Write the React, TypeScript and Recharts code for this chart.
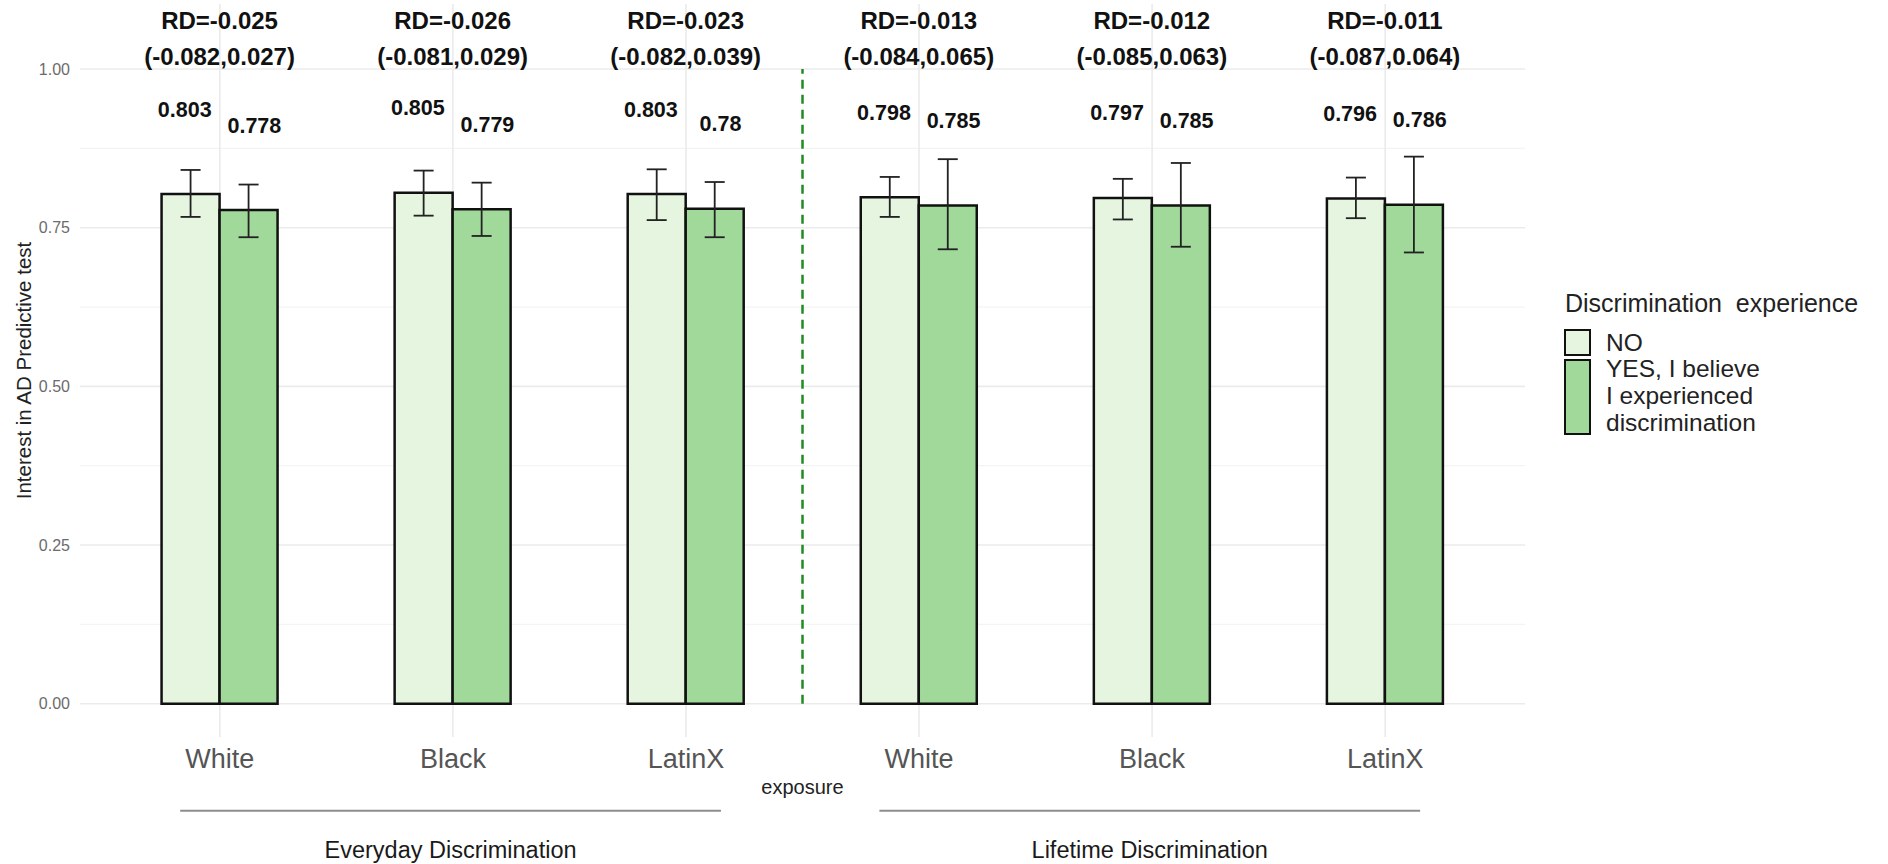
import React from "react";
import {
  Bar,
  BarChart,
  CartesianGrid,
  ErrorBar,
  LabelList,
  ReferenceLine,
  XAxis,
  YAxis,
} from "recharts";

const RACES = ["White", "Black", "LatinX"];
const GROUPS = ["Everyday Discrimination", "Lifetime Discrimination"];

// share interested in the test, one entry per group x race
const noMean = [0.803, 0.805, 0.803, 0.798, 0.797, 0.796];
const noLow = [0.767, 0.769, 0.762, 0.767, 0.763, 0.765];
const noHigh = [0.841, 0.84, 0.842, 0.83, 0.827, 0.829];
const yesMean = [0.778, 0.779, 0.78, 0.785, 0.785, 0.786];
const yesLow = [0.735, 0.737, 0.735, 0.716, 0.72, 0.711];
const yesHigh = [0.818, 0.821, 0.822, 0.858, 0.852, 0.862];

// risk difference YES - NO with its interval
const rd = [-0.025, -0.026, -0.023, -0.013, -0.012, -0.011];
const rdLow = [-0.082, -0.081, -0.082, -0.084, -0.085, -0.087];
const rdHigh = [0.027, 0.029, 0.039, 0.065, 0.063, 0.064];

const Y_TICKS = [0, 0.25, 0.5, 0.75, 1];
const Y_MINOR = [0.125, 0.375, 0.625, 0.875];
const Y_DOMAIN: [number, number] = [-0.0525, 1.1025];

const NO_FILL = "#e5f5e0";
const YES_FILL = "#a1d99b";
const FONT = "'Liberation Sans', Arial, Helvetica, sans-serif";

const data = GROUPS.flatMap((g, gi) =>
  RACES.map((r, ri) => {
    const i = gi * RACES.length + ri;
    return {
      key: `${g}|${r}`,
      pos: i + 1,
      no: noMean[i],
      yes: yesMean[i],
      noErr: [noMean[i] - noLow[i], noHigh[i] - noMean[i]],
      yesErr: [yesMean[i] - yesLow[i], yesHigh[i] - yesMean[i]],
      rd1: `RD=${rd[i]}`,
      rd2: `(${rdLow[i]},${rdHigh[i]})`,
    };
  })
);

const box = (p: any) => {
  const vb = p.viewBox ?? p;
  return {
    x: Number(vb.x ?? p.x),
    y: Number(vb.y ?? p.y),
    w: Number(vb.width ?? p.width),
    h: Number(vb.height ?? p.height),
  };
};

// value printed well above each bar, nudged outward from the pair centre
const valueLabel = (side: "no" | "yes") => (p: any) => {
  const v = Number(p.value);
  if (!v) return null;
  const { x, y, w, h } = box(p);
  const ppu = h / v;
  const cx = side === "no" ? x + w * 0.4 : x + w * 0.6;
  const cy = y + h - (v + 0.133) * ppu;
  return (
    <text
      x={cx}
      y={cy}
      textAnchor="middle"
      dominantBaseline="central"
      fontFamily={FONT}
      fontWeight="bold"
      fontSize={21.5}
      fill="#111"
    >
      {String(v)}
    </text>
  );
};

// two-line RD annotation centred over each pair
const rdLabel = (p: any) => {
  const v = Number(p.value);
  const row = data[Number(p.index)];
  if (!v || !row) return null;
  const { x, y, w, h } = box(p);
  const ppu = h / v;
  const zero = y + h;
  const cx = x + w;
  const common = {
    x: cx,
    textAnchor: "middle" as const,
    dominantBaseline: "central" as const,
    fontFamily: FONT,
    fontWeight: "bold",
    fontSize: 24,
    fill: "#111",
  };
  return (
    <g>
      <text {...common} y={zero - 1.0765 * ppu}>
        {row.rd1}
      </text>
      <text {...common} y={zero - 1.0205 * ppu}>
        {row.rd2}
      </text>
    </g>
  );
};

const minorLines = ({ yAxis, offset }: any) =>
  Y_MINOR.map((v) =>
    yAxis && typeof yAxis.scale === "function"
      ? yAxis.scale(v)
      : offset.top +
        ((Y_DOMAIN[1] - v) / (Y_DOMAIN[1] - Y_DOMAIN[0])) * offset.height
  );

function Legend() {
  const text: React.CSSProperties = {
    position: "absolute",
    fontFamily: FONT,
    fontSize: 24.5,
    color: "#222",
    whiteSpace: "pre",
    lineHeight: "27px",
  };
  const key: React.CSSProperties = {
    position: "absolute",
    left: 1564,
    width: 27,
    border: "2.5px solid #111",
    boxSizing: "border-box",
  };
  return (
    <>
      <div style={{ ...text, left: 1565, top: 290, fontSize: 25 }}>
        {"Discrimination  experience"}
      </div>
      <div style={{ ...key, top: 329, height: 27, background: NO_FILL }} />
      <div style={{ ...key, top: 359, height: 76, background: YES_FILL }} />
      <div style={{ ...text, left: 1606, top: 329 }}>NO</div>
      <div style={{ ...text, left: 1606, top: 355 }}>
        {"YES, I believe\nI experienced\ndiscrimination"}
      </div>
    </>
  );
}

export default function App() {
  return (
    <div
      style={{
        position: "absolute",
        left: 0,
        top: 0,
        width: 1888,
        height: 864,
        background: "#fff",
      }}
    >
      <BarChart
        width={1888}
        height={864}
        data={data}
        margin={{ top: 4, right: 363, bottom: 77, left: 0 }}
        barCategoryGap="25%"
        barGap={0}
        style={{ fontFamily: FONT }}
      >
        <CartesianGrid
          vertical={false}
          stroke="#f4f4f4"
          strokeWidth={1.2}
          horizontalCoordinatesGenerator={minorLines}
        />
        <CartesianGrid stroke="#ebebeb" strokeWidth={1.6} syncWithTicks />
        <XAxis
          dataKey="key"
          type="category"
          padding={{ left: 23.3, right: 23.3 }}
          height={50}
          axisLine={false}
          tickLine={false}
          tickSize={0}
          tickMargin={12}
          interval={0}
          tickFormatter={(k: string) => k.split("|")[1]}
          tick={{ fontSize: 27, fill: "#555" }}
          label={{
            value: "exposure",
            position: "bottom",
            offset: -7,
            style: { fontSize: 20, fill: "#222" },
          }}
        />
        <XAxis
          xAxisId="num"
          dataKey="pos"
          type="number"
          domain={[0.4, 6.6]}
          allowDataOverflow
          hide
        />
        <YAxis
          type="number"
          domain={Y_DOMAIN}
          allowDataOverflow
          ticks={Y_TICKS}
          interval={0}
          width={80}
          axisLine={false}
          tickLine={false}
          tickSize={0}
          tickMargin={10}
          tickFormatter={(v: number) => v.toFixed(2)}
          tick={{ fontSize: 16, fill: "#6b6b6b" }}
          label={{
            value: "Interest in AD Predictive test",
            angle: -90,
            position: "insideLeft",
            offset: 24,
            style: { fontSize: 20.5, fill: "#222", textAnchor: "middle" },
          }}
        />
        <Bar
          dataKey="no"
          fill={NO_FILL}
          stroke="#111"
          strokeWidth={2.5}
          isAnimationActive={false}
        >
          <ErrorBar
            dataKey="noErr"
            direction="y"
            width={10}
            stroke="#222"
            strokeWidth={1.8}
          />
          <LabelList dataKey="no" content={valueLabel("no")} />
          <LabelList dataKey="no" content={rdLabel} />
        </Bar>
        <Bar
          dataKey="yes"
          fill={YES_FILL}
          stroke="#111"
          strokeWidth={2.5}
          isAnimationActive={false}
        >
          <ErrorBar
            dataKey="yesErr"
            direction="y"
            width={10}
            stroke="#222"
            strokeWidth={1.8}
          />
          <LabelList dataKey="yes" content={valueLabel("yes")} />
        </Bar>
        <ReferenceLine
          xAxisId="num"
          segment={[
            { x: 3.5, y: 0 },
            { x: 3.5, y: 1 },
          ]}
          stroke="#228b22"
          strokeWidth={2.5}
          strokeDasharray="9 6"
        />
        {GROUPS.map((g, gi) => {
          const first = gi * RACES.length + 1;
          const last = first + RACES.length - 1;
          return (
            <ReferenceLine
              key={g}
              xAxisId="num"
              ifOverflow="visible"
              segment={[
                { x: first - 0.17, y: -0.1686 },
                { x: last + 0.15, y: -0.1686 },
              ]}
              stroke="#8c8c8c"
              strokeWidth={2}
              label={{
                value: g,
                position: "bottom",
                offset: 31,
                fill: "#1a1a1a",
                fontSize: 23.5,
              }}
            />
          );
        })}
      </BarChart>
      <Legend />
    </div>
  );
}
